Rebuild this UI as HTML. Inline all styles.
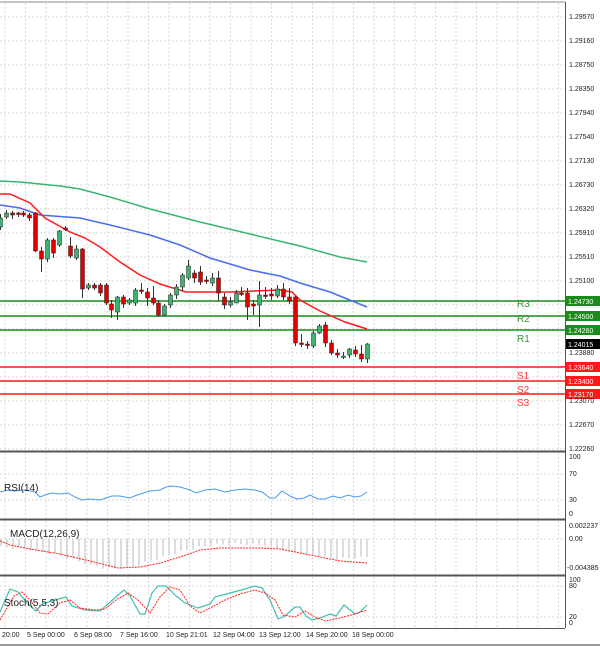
<!DOCTYPE html>
<html><head><meta charset="utf-8"><style>
html,body{margin:0;padding:0;background:#fff;}
svg{display:block;font-family:"Liberation Sans",sans-serif;}
</style></head><body>
<svg id="s" width="600" height="646" viewBox="0 0 600 646" xmlns="http://www.w3.org/2000/svg">
<rect x="0" y="0" width="600" height="646" fill="#fff"/>
<g id="grid" stroke="#d8d8d8" stroke-width="1" stroke-dasharray="2,2"></g>
<g id="lvl"></g>
<g id="ma" fill="none" stroke-width="1.5"></g>
<g id="cd"></g>
<g id="ind" fill="none"></g>
<g stroke="#555" fill="none" stroke-width="1">
<line x1="0" y1="2" x2="565" y2="2" stroke="#888"/>
<line x1="565.5" y1="2" x2="565.5" y2="628"/>
<line x1="0" y1="451.5" x2="565" y2="451.5" stroke-width="2"/>
<line x1="0" y1="519.5" x2="565" y2="519.5" stroke-width="2"/>
<line x1="0" y1="575.5" x2="565" y2="575.5" stroke-width="2"/>
<line x1="0" y1="628.5" x2="565" y2="628.5"/>
<line x1="0" y1="645" x2="600" y2="645" stroke="#999" stroke-width="2"/>
</g>
<g font-size="7" fill="#222" id="yl">
<text x="569" y="19">1.29570</text><text x="569" y="43">1.29160</text><text x="569" y="67">1.28750</text>
<text x="569" y="91">1.28350</text><text x="569" y="115">1.27940</text><text x="569" y="139">1.27540</text>
<text x="569" y="163">1.27130</text><text x="569" y="187">1.26730</text><text x="569" y="211">1.26320</text>
<text x="569" y="235">1.25910</text><text x="569" y="259">1.25510</text><text x="569" y="283">1.25100</text>
<text x="569" y="355">1.23880</text><text x="569" y="403">1.23070</text><text x="569" y="427">1.22670</text>
<text x="569" y="451">1.22260</text>
<text x="569" y="459">100</text><text x="569" y="476">70</text><text x="569" y="502">30</text><text x="569" y="516">0</text>
<text x="569" y="528">0.002237</text><text x="569" y="541">0.00</text><text x="567" y="570">-0.004385</text>
<text x="569" y="582">100</text><text x="569" y="588">80</text><text x="569" y="619">20</text><text x="569" y="625">0</text>
</g>
<g font-size="7" fill="#222">
<text x="2" y="637">20:00</text><text x="27" y="637">5 Sep 00:00</text><text x="74" y="637">6 Sep 08:00</text>
<text x="120" y="637">7 Sep 16:00</text><text x="166" y="637">10 Sep 21:01</text><text x="213" y="637">12 Sep 04:00</text>
<text x="259" y="637">13 Sep 12:00</text><text x="306" y="637">14 Sep 20:00</text><text x="352" y="637">18 Sep 00:00</text>
</g>
<g font-size="10" fill="#222">
<text x="4" y="491">RSI(14)</text><text x="10" y="537">MACD(12,26,9)</text><text x="4" y="606">Stoch(5,5,3)</text>
</g>
</svg>
<script>
var NS='http://www.w3.org/2000/svg';
function el(p,t,a){var e=document.createElementNS(NS,t);for(var k in a)e.setAttribute(k,a[k]);document.getElementById(p).appendChild(e);return e;}
for(var x=5;x<565;x+=20.5){[[3,450],[453,518],[521,574],[577,627]].forEach(function(r){el('grid','line',{x1:x,y1:r[0],x2:x,y2:r[1]});});}
for(var y=17;y<450;y+=24)el('grid','line',{x1:0,y1:y,x2:565,y2:y});
[474,500,539,586,617].forEach(function(y){el('grid','line',{x1:0,y1:y,x2:565,y2:y});});
var lv=[[301,'#1a8c1a','R3','1.24730',1],[316,'#1a8c1a','R2','1.24500',1],[330,'#1a8c1a','R1','1.24260',0],[367,'#ff1a1a','S1','1.23640',0],[381,'#ff1a1a','S2','1.23400',0],[394,'#ff1a1a','S3','1.23170',0]];
lv.forEach(function(l){el('lvl','line',{x1:0,y1:l[0],x2:565,y2:l[0],stroke:l[1],'stroke-width':1.5});
el('lvl','rect',{x:566,y:l[0]-5,width:34,height:10,fill:l[1]});
var t=el('lvl','text',{x:568,y:l[0]+3,'font-size':7,fill:'#fff'});t.textContent=l[3];
var t2=el('lvl','text',{x:517,y:l[0]+(l[4]?6:12),'font-size':10,fill:l[1]=='#1a8c1a'?'#3a9a3a':'#ff3a3a'});t2.textContent=l[2];});
el('lvl','rect',{x:566,y:339,width:34,height:10,fill:'#000'});
var tt=el('lvl','text',{x:568,y:347,'font-size':7,fill:'#fff'});tt.textContent='1.24015';
function pl(pts,c,g,w,da){var a={points:pts.map(function(p){return p.join(',')}).join(' '),stroke:c,'stroke-width':w||1.5};if(da)a['stroke-dasharray']=da;el(g,'polyline',a);}
pl([[0,181],[20,182],[60,186],[80,189],[110,197],[150,209],[200,222],[250,234],[300,246],[340,257],[367,262]],'#3cb371','ma');
pl([[0,205],[20,208],[40,215],[80,218],[110,225],[150,235],[180,245],[210,258],[250,270],[280,276],[300,283],[330,292],[367,307]],'#4a6cf0','ma');
pl([[0,194],[10,194],[30,203],[45,218],[70,232],[85,238],[100,247],[120,262],[140,275],[160,284],[186,292],[230,292],[280,290],[292,292],[300,300],[320,311],[345,322],[367,329]],'#ff1a1a','ma');
var C=[[0,227,218,230,214],[6,217,213,219,210],[12,213,215,211,219],[18,213,214,212,217],[23,213,215,211,217],[29,215,218,213,221],[35,213,251,212,252],[41,251,259,247,272],[47,259,240,238,262],[53,240,253,238,258],[59,245,231,230,247],[65,228,229,226,231],[70,246,256,237,258],[76,258,249,245,260],[82,249,289,248,298],[88,288,285,283,290],[94,285,288,283,290],[100,285,293,283,296],[106,285,303,283,305],[111,304,310,300,318],[117,312,297,296,320],[123,297,304,295,308],[129,303,300,298,305],[135,303,290,288,306],[141,290,291,283,294],[147,292,298,288,306],[153,298,303,286,305],[158,303,315,300,317],[164,315,306,304,316],[170,305,295,293,308],[176,295,287,284,299],[182,287,275,273,291],[188,278,266,260,280],[194,273,278,270,283],[200,272,282,266,285],[206,280,281,276,284],[212,283,278,273,286],[218,278,293,271,301],[224,297,305,293,309],[230,305,302,297,307],[236,303,293,290,303],[241,293,294,287,296],[247,293,307,288,320],[253,304,306,300,315],[259,305,295,281,327],[265,295,295,287,299],[271,294,296,288,300],[277,296,289,285,298],[283,289,297,283,300],[289,297,301,288,304],[295,297,343,296,346],[301,343,344,334,347],[307,344,345,341,349],[313,346,333,331,348],[319,333,326,324,334],[325,325,343,322,347],[331,343,353,340,355],[337,353,355,349,358],[343,357,356,352,359],[349,355,349,348,358],[355,350,354,346,357],[361,354,359,345,362],[367,359,344,343,363]];
C.forEach(function(c){var up=c[2]<c[1];
el('cd','line',{x1:c[0]+.5,y1:c[3],x2:c[0]+.5,y2:c[4],stroke:'#333','stroke-width':1});
var t=Math.min(c[1],c[2]),h=Math.max(1.5,Math.abs(c[2]-c[1]));
el('cd','rect',{x:c[0]-1.5,y:t,width:4,height:h,fill:up?'#3cb371':'#e00000',stroke:'#222','stroke-width':.5});});
pl([[0,492],[8,490],[14,491],[25,490],[35,492],[40,497],[45,495],[52,493],[60,494],[68,493],[75,497],[82,500],[90,499],[100,500],[112,496],[120,496],[130,498],[137,495],[150,491],[160,490],[166,487],[172,486],[180,487],[190,490],[196,493],[205,490],[215,489],[225,492],[235,490],[245,489],[255,490],[262,492],[270,498],[275,498],[282,491],[290,496],[297,499],[304,498],[310,495],[318,499],[325,499],[333,496],[340,498],[348,495],[355,497],[361,496],[367,492]],'#4a9af0','ind',1);
var hk=[[0,8],[30,10],[60,16],[90,26],[110,30],[130,28],[150,22],[170,16],[190,10],[210,6],[240,5],[265,6],[290,12],[310,16],[340,20],[367,18]];
function hv(x){for(var i=0;i<hk.length-1;i++){if(x<=hk[i+1][0]){var a=hk[i],b=hk[i+1];return a[1]+(b[1]-a[1])*(x-a[0])/(b[0]-a[0]);}}return 18;}
for(var i=0;i<62;i++){var x=1+i*6;var h=hv(x)+((i%3)-1);
el('ind','line',{x1:x,y1:539,x2:x,y2:539+h,stroke:'#bbb','stroke-width':1});}
pl([[0,541],[10,545],[30,549],[60,554],[90,561],[118,568],[140,567],[160,563],[180,557],[200,550],[220,548],[260,548],[280,549],[300,553],[320,557],[340,561],[367,563]],'#ff2020','ind',1,'2,1');
pl([[0,612],[10,589],[18,592],[28,604],[36,611],[42,604],[55,600],[66,597],[72,606],[85,610],[100,611],[108,604],[118,595],[124,590],[130,596],[140,614],[145,614],[152,593],[158,586],[166,586],[175,595],[185,603],[198,608],[210,604],[215,597],[230,593],[245,589],[255,586],[262,588],[270,600],[278,619],[285,616],[295,607],[300,607],[306,616],[312,620],[320,618],[330,614],[336,616],[344,605],[355,614],[360,612],[367,605]],'#40c0b0','ind',1.2);
pl([[0,620],[14,596],[22,592],[30,600],[40,613],[48,614],[60,603],[70,600],[80,608],[95,610],[105,609],[116,600],[128,593],[138,600],[150,613],[160,597],[170,587],[180,590],[190,606],[200,613],[212,607],[225,600],[240,594],[255,590],[265,593],[275,600],[283,615],[295,617],[305,611],[315,617],[325,621],[340,618],[355,614],[367,610]],'#ff2020','ind',1,'2,1');
</script>
</body></html>
